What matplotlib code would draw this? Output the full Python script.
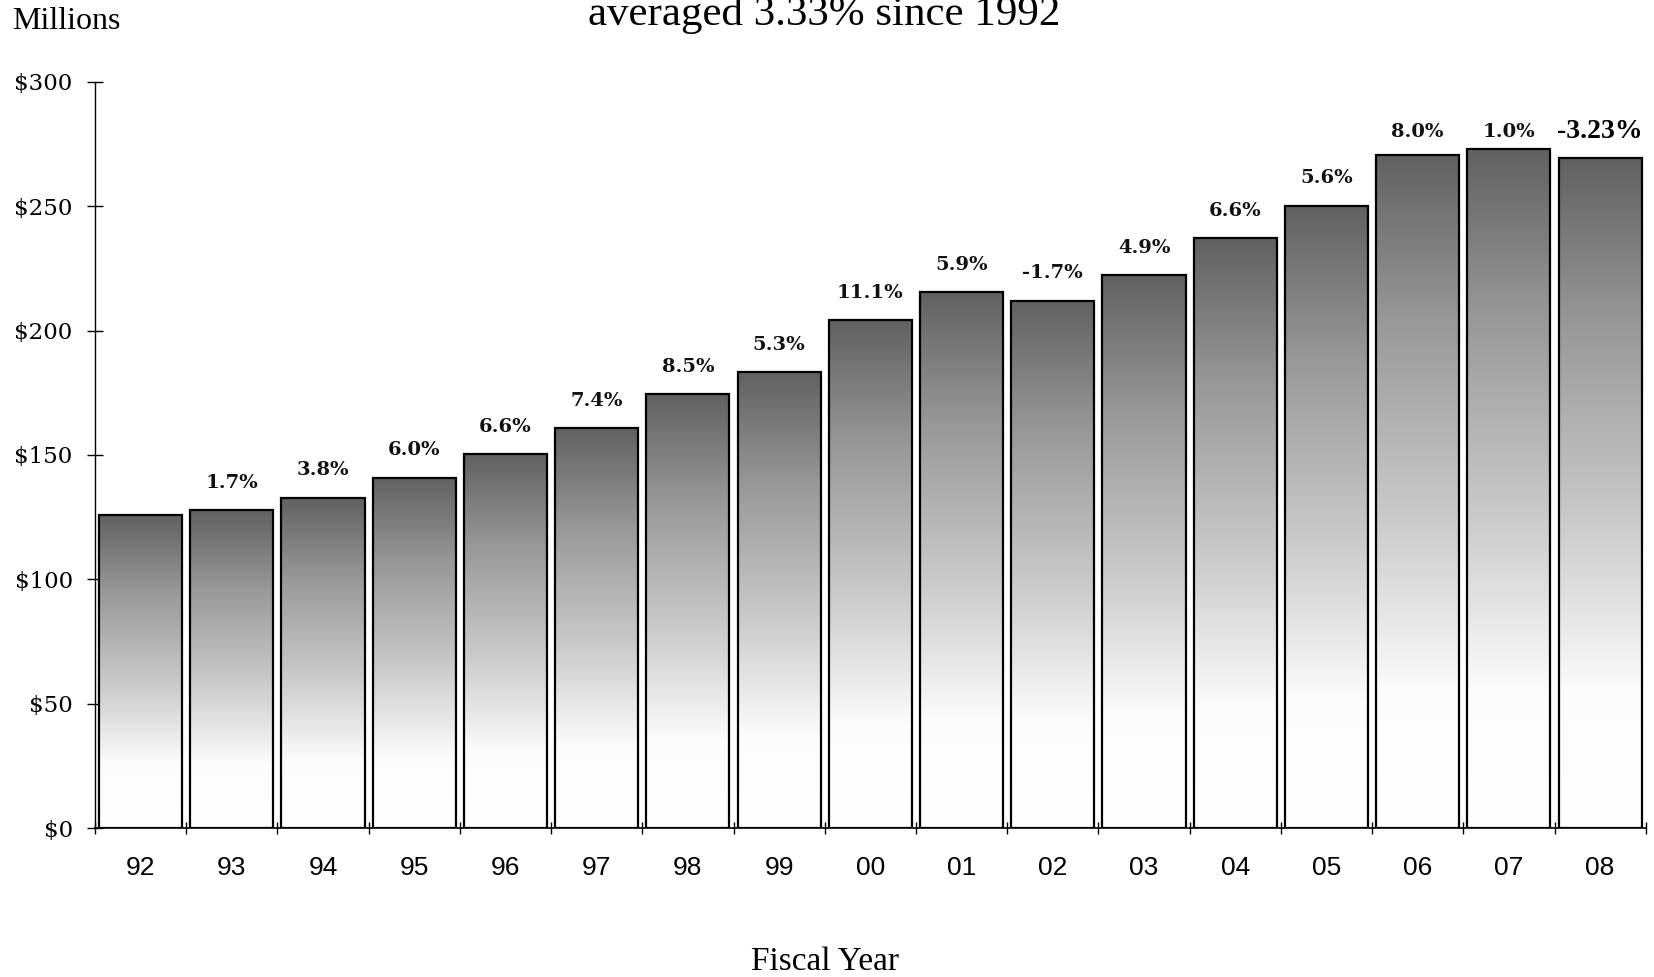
import numpy as np
import matplotlib
matplotlib.use("Agg")
import matplotlib.pyplot as plt
from matplotlib.colors import LinearSegmentedColormap

years = ["92", "93", "94", "95", "96", "97", "98", "99", "00",
         "01", "02", "03", "04", "05", "06", "07", "08"]
values = [126.0, 127.7, 132.8, 140.9, 150.2, 160.8, 174.4, 183.3, 204.1,
          215.5, 212.1, 222.3, 237.2, 250.3, 270.7, 273.2, 269.4]
growth_labels = ["", "1.7%", "3.8%", "6.0%", "6.6%", "7.4%", "8.5%", "5.3%", "11.1%",
                 "5.9%", "-1.7%", "4.9%", "6.6%", "5.6%", "8.0%", "1.0%", "-3.23%"]
yticks = [0, 50, 100, 150, 200, 250, 300]
ytick_labels = ["$0", "$50", "$100", "$150", "$200", "$250", "$300"]

serif = ["Liberation Serif", "DejaVu Serif"]
wide_serif = ["DejaVu Serif"]
sans = ["Liberation Sans", "DejaVu Sans"]

fig = plt.figure(figsize=(16.54, 9.77), dpi=100)
ax = fig.add_axes([0.0574, 0.1525, 0.9376, 0.7636])

x = np.arange(len(years))
w = 0.91

# gradient: white at bottom, dark grey at top
cmap = LinearSegmentedColormap.from_list(
    "g", [(0.0, (1, 1, 1)), (0.2, (0.99, 0.99, 0.99)), (0.45, (0.80, 0.80, 0.80)),
          (0.75, (0.60, 0.60, 0.60)), (1.0, (0.38, 0.38, 0.38))])
grad = np.linspace(0, 1, 256).reshape(-1, 1)

bars = ax.bar(x, values, width=w, color="none", edgecolor="black", linewidth=1.6, zorder=3)
for b in bars:
    x0 = b.get_x()
    h = b.get_height()
    ax.imshow(grad, cmap=cmap, origin="lower", aspect="auto",
              extent=(x0, x0 + b.get_width(), 0, h), zorder=2, interpolation="bilinear")

for i, (v, lab) in enumerate(zip(values, growth_labels)):
    if not lab:
        continue
    y = min(v + 11, 280)
    if i == len(values) - 1:
        ax.text(i, y, lab, ha="center", va="center", fontsize=20, fontweight="bold",
                family=serif, zorder=4)
    else:
        ax.text(i, y, lab, ha="center", va="center", fontsize=14, fontweight="bold",
                family=wide_serif, color="#111111", zorder=4)

ax.set_xlim(-0.5, len(years) - 0.5)
ax.set_ylim(0, 300)
ax.set_yticks(yticks)
ax.set_yticklabels(ytick_labels, family=wide_serif, fontsize=16.5)
ax.set_xticks(x)
ax.set_xticklabels(years, family=sans, fontsize=19)
ax.set_xticks(np.arange(-0.5, len(years)), minor=True)
ax.tick_params(axis="x", which="major", length=0, pad=20)
ax.tick_params(axis="x", which="minor", length=9, direction="inout", width=1)
ax.tick_params(axis="y", which="major", length=12, direction="inout", width=1, pad=10)
for s in ["top", "right"]:
    ax.spines[s].set_visible(False)
ax.spines["left"].set_linewidth(1.0)
ax.spines["bottom"].set_linewidth(1.2)

fig.text(0.0075, 0.978, "Millions", family=serif, fontsize=23, ha="left", va="center")
fig.text(0.4985, 0.985, "averaged 3.33% since 1992", family=serif, fontsize=31,
         ha="center", va="center")
fig.text(0.4985, 0.016, "Fiscal Year", family=serif, fontsize=24, ha="center", va="center")

fig.savefig("out.png", dpi=100)
